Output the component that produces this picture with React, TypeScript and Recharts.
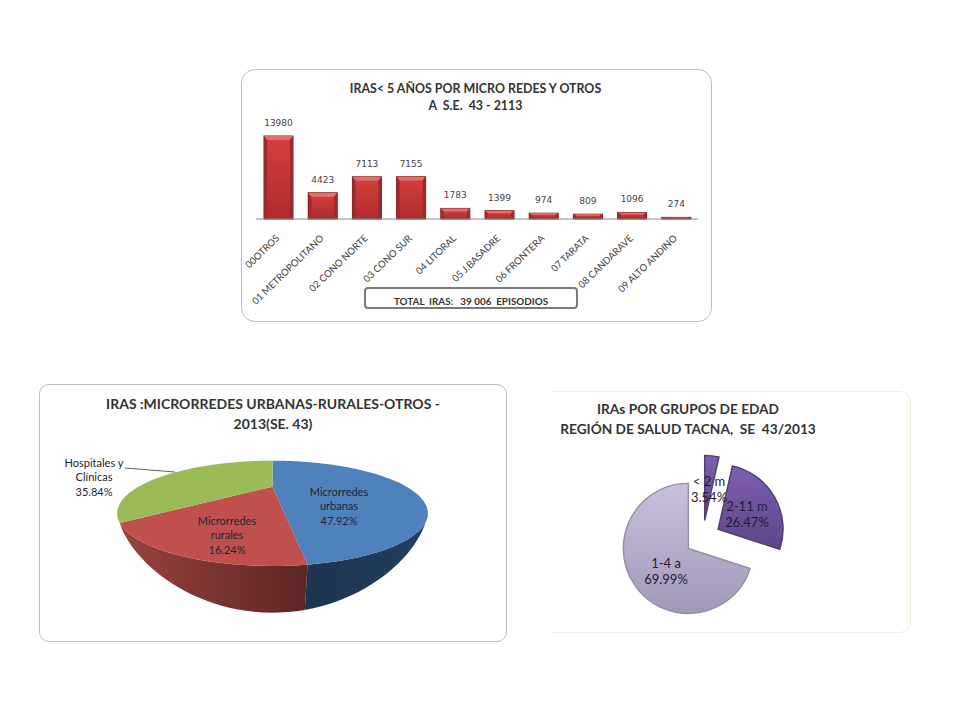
import { BarChart, Bar, XAxis, YAxis, LabelList, PieChart, Pie, Sector } from 'recharts';

// Barras: IRAS por micro red
const redes = ['00OTROS', '01  METROPOLITANO', '02 CONO NORTE', '03 CONO SUR', '04 LITORAL', '05 J.BASADRE', '06 FRONTERA', '07 TARATA', '08 CANDARAVE', '09 ALTO ANDINO'];
const episodios = [13980, 4423, 7113, 7155, 1783, 1399, 974, 809, 1096, 274];

// Pie 3D: microrredes
const tiposRed = ['Microrredes urbanas', 'Microrredes rurales', 'Hospitales y Clínicas'];
const tiposPct = [47.92, 16.24, 35.84];

// Pie: grupos de edad
const gruposEdad = ['< 2 m', '2-11 m', '1-4 a'];
const gruposPct = [3.54, 26.47, 69.99];

const barData = redes.map((name, i) => ({ name, value: episodios[i] }));
const tiposData = tiposRed.map((name, i) => ({ name, value: tiposPct[i] }));
const gruposData = gruposEdad.map((name, i) => ({ name, value: gruposPct[i] }));

const FONT = 'Lato, sans-serif';

// Perspectiva del disco del pie 3D
const PERSPECTIVE = 0.506;
const Y_SCALE = 0.2923;
const WALL_DEPTH = 46.7;
const WALL_COLORS = ['url(#wallBlue)', 'url(#wallRed)', null];
const TOP_COLORS = ['#4f81bd', '#c0504d', '#9bbb59'];

function project(cx: number, cy: number, r: number, deg: number) {
  // deg: grados de Recharts (90 = arriba, sentido antihorario)
  const t = ((90 - deg) * Math.PI) / 180;
  const u = Math.sin(t);
  const v = -Math.cos(t);
  const w = 1 - PERSPECTIVE * v;
  return { x: cx + (r * u) / w, y: cy + (r * Y_SCALE * v) / w, x0: (r * u) / w };
}

function bottomOf(cx: number, r: number, p: { x: number; y: number; x0: number }) {
  const xMax = r / Math.sqrt(1 - PERSPECTIVE * PERSPECTIVE);
  const s = Math.sqrt(Math.max(0, 1 - (p.x0 / xMax) ** 2));
  return { x: cx + p.x0 * (1 - 0.08 * s), y: p.y + WALL_DEPTH * Math.pow(s, 1.2) };
}

function Slice3D(props: any) {
  const { cx, cy, outerRadius: r, startAngle, endAngle, index } = props;
  const steps = Math.max(2, Math.ceil(Math.abs(endAngle - startAngle) / 2));
  const pts = [];
  for (let i = 0; i <= steps; i++) {
    pts.push(project(cx, cy, r, startAngle + ((endAngle - startAngle) * i) / steps));
  }
  const top = `M${cx},${cy} ` + pts.map((p) => `L${p.x},${p.y}`).join(' ') + ' Z';

  // pared frontal: sólo la parte del arco que mira hacia adelante
  const front = pts.filter((_, i) => {
    const deg = startAngle + ((endAngle - startAngle) * i) / steps;
    return -Math.cos(((90 - deg) * Math.PI) / 180) >= PERSPECTIVE;
  });
  let wall = null;
  if (WALL_COLORS[index] && front.length > 1) {
    const bottom = front.map((p) => bottomOf(cx, r, p)).reverse();
    const d = 'M' + front.concat(bottom as any).map((p) => `${p.x},${p.y}`).join(' L') + ' Z';
    wall = <path d={d} fill={WALL_COLORS[index] as string} />;
  }
  return (
    <g>
      {wall}
      <path d={top} fill={TOP_COLORS[index]} />
    </g>
  );
}

// Sector separado del centro (pie explotado)
const EXPLODE = 17.7;
const EDAD_FILLS = ['url(#edadDark)', 'url(#edadDark)', 'url(#edadLight)'];
const EDAD_STROKES = ['#4f3f6e', '#4f3f6e', '#938da6'];

function SliceExploded(props: any) {
  const { cx, cy, outerRadius, startAngle, endAngle, index } = props;
  const mid = ((startAngle + endAngle) / 2) * (Math.PI / 180);
  return (
    <Sector
      cx={cx + EXPLODE * Math.cos(mid)}
      cy={cy - EXPLODE * Math.sin(mid)}
      innerRadius={0}
      outerRadius={outerRadius}
      startAngle={startAngle}
      endAngle={endAngle}
      fill={EDAD_FILLS[index]}
      stroke={EDAD_STROKES[index]}
      strokeWidth={1.4}
    />
  );
}

function RedBar(props: any) {
  const { x, y, width, height } = props;
  const bevel = Math.min(4, height * 0.3);
  return (
    <g>
      <rect x={x} y={y} width={width} height={height} fill="url(#barBody)" stroke="#732020" strokeWidth={1} />
      <path d={`M${x},${y} L${x + width},${y} L${x + width - 3},${y + bevel} L${x + 3},${y + bevel} Z`} fill="#e4706c" />
      <path d={`M${x},${y} L${x + 3},${y + bevel} L${x + 3},${y + height} L${x},${y + height} Z`} fill="#9c2a2a" />
      <path d={`M${x + width},${y} L${x + width - 3},${y + bevel} L${x + width - 3},${y + height} L${x + width},${y + height} Z`} fill="#9c2a2a" />
    </g>
  );
}

function RotatedTick(props: any) {
  const { x, y, payload } = props;
  return (
    <text x={x + 2} y={y + 12} transform={`rotate(-44 ${x + 2} ${y + 12})`} textAnchor="end" fontFamily={FONT} fontSize={9.6} fill="#404040">
      {payload.value}
    </text>
  );
}

// Posición de las etiquetas de los pies, relativa a cada panel
const TIPOS_LABELS = [
  { x: 300, lines: ['Microrredes', 'urbanas', '47.92%'], y: 112 },
  { x: 188, lines: ['Microrredes', 'rurales', '16.24%'], y: 141 },
  { x: 55, lines: ['Hospitales y', 'Clínicas', '35.84%'], y: 83 },
];
const EDAD_LABELS = [
  { x: 157, lines: ['< 2 m', '3.54%'], y: 95 },
  { x: 195, lines: ['2-11 m', '26.47%'], y: 120 },
  { x: 114, lines: ['1-4 a', '69.99%'], y: 177 },
];

function tiposLabel({ index }: any) {
  const l = TIPOS_LABELS[index];
  return (
    <g>
      {index === 2 && <line x1={86} y1={84} x2={136} y2={88} stroke="#333" strokeWidth={0.8} />}
      <text textAnchor="middle" fontFamily={FONT} fontSize={11} fill="#1e2430">
        {l.lines.map((t, i) => (
          <tspan key={t} x={l.x} y={l.y + i * 14.4}>{t}</tspan>
        ))}
      </text>
    </g>
  );
}

function edadLabel({ index }: any) {
  const l = EDAD_LABELS[index];
  return (
    <text textAnchor="middle" fontFamily={FONT} fontSize={13} fill="#1f1a33">
      {l.lines.map((t, i) => (
        <tspan key={t} x={l.x} y={l.y + i * 15.5}>{t}</tspan>
      ))}
    </text>
  );
}

const titleStyle = (left: number, top: number, width: number, fontSize: number, lineHeight: number): React.CSSProperties => ({
  position: 'absolute',
  left,
  top,
  width,
  textAlign: 'center',
  fontFamily: FONT,
  fontWeight: 700,
  fontSize,
  lineHeight: `${lineHeight}px`,
  color: '#333',
  whiteSpace: 'pre',
});

export default function App() {
  return (
    <div style={{ position: 'absolute', left: 0, top: 0, width: 960, height: 720, background: '#fff', overflow: 'hidden' }}>
      {/* Panel de barras */}
      <div style={{ position: 'absolute', left: 241, top: 69, width: 469, height: 251, border: '1.5px solid #bdbdbd', borderRadius: 14 }} />
      <div style={{ position: 'absolute', left: 241, top: 69 }}>
        <BarChart width={471} height={253} data={barData} margin={{ top: 67, right: 14, bottom: 0, left: 15 }} barSize={29}>
          <defs>
            <linearGradient id="barBody" x1="0" y1="0" x2="0" y2="1">
              <stop offset="0%" stopColor="#d5403f" />
              <stop offset="100%" stopColor="#ad2c2c" />
            </linearGradient>
          </defs>
          <XAxis dataKey="name" interval={0} height={103} tick={<RotatedTick />} tickLine={false} axisLine={{ stroke: '#8a8a8a' }} />
          <YAxis hide domain={[0, 13980]} />
          <Bar dataKey="value" shape={<RedBar />} isAnimationActive={false}>
            <LabelList dataKey="value" position="top" offset={10} fontFamily="DejaVu Sans" fontSize={9} fill="#444" />
          </Bar>
        </BarChart>
      </div>
      <div style={titleStyle(241, 80, 469, 12.4, 17)}>{'IRAS< 5 AÑOS POR MICRO REDES Y OTROS\nA  S.E.  43 - 2113'}</div>
      <div style={{ position: 'absolute', left: 364, top: 287, width: 210, height: 18, border: '2px solid #7a7a7a', borderRadius: 4, background: '#fff', textAlign: 'center', fontFamily: FONT, fontWeight: 700, fontSize: 9.9, lineHeight: '25px', color: '#333', whiteSpace: 'pre' }}>
        {'TOTAL  IRAS:   39 006  EPISODIOS'}
      </div>

      {/* Panel pie 3D */}
      <div style={{ position: 'absolute', left: 39, top: 384, width: 466, height: 256, border: '1.5px solid #bdbdbd', borderRadius: 10 }} />
      <div style={{ position: 'absolute', left: 39, top: 384 }}>
        <PieChart width={468} height={258} margin={{ top: 0, right: 0, bottom: 0, left: 0 }}>
          <defs>
            <linearGradient id="wallRed" x1="0" y1="0" x2="1" y2="0">
              <stop offset="0%" stopColor="#9a4340" />
              <stop offset="100%" stopColor="#5c2624" />
            </linearGradient>
            <linearGradient id="wallBlue" x1="0" y1="0" x2="1" y2="0">
              <stop offset="0%" stopColor="#1d3350" />
              <stop offset="100%" stopColor="#22405f" />
            </linearGradient>
          </defs>
          <Pie
            data={tiposData}
            dataKey="value"
            nameKey="name"
            cx={233.5}
            cy={102.7}
            outerRadius={134}
            startAngle={90}
            endAngle={-270}
            stroke="none"
            shape={Slice3D}
            label={tiposLabel}
            labelLine={false}
            isAnimationActive={false}
          />
        </PieChart>
      </div>
      <div style={titleStyle(40, 394, 466, 14, 20)}>{'IRAS :MICRORREDES URBANAS-RURALES-OTROS -\n2013(SE. 43)'}</div>

      {/* Panel pie por edad */}
      <div style={{ position: 'absolute', left: 552, top: 391, width: 358, height: 240, borderTop: '1px solid #f1efdf', borderRight: '1px solid #f1efdf', borderBottom: '1px solid #f1efdf', borderRadius: '0 12px 12px 0' }} />
      <div style={{ position: 'absolute', left: 552, top: 391 }}>
        <PieChart width={360} height={242} margin={{ top: 0, right: 0, bottom: 0, left: 0 }}>
          <defs>
            <linearGradient id="edadDark" x1="0" y1="0" x2="0" y2="1">
              <stop offset="0%" stopColor="#7f5eb0" />
              <stop offset="100%" stopColor="#5f4589" />
            </linearGradient>
            <linearGradient id="edadLight" x1="0" y1="0" x2="0" y2="1">
              <stop offset="0%" stopColor="#c8c0dc" />
              <stop offset="100%" stopColor="#a299b8" />
            </linearGradient>
          </defs>
          <Pie
            data={gruposData}
            dataKey="value"
            nameKey="name"
            cx={150.7}
            cy={147}
            outerRadius={65}
            startAngle={90}
            endAngle={-270}
            shape={SliceExploded}
            label={edadLabel}
            labelLine={false}
            isAnimationActive={false}
          />
        </PieChart>
      </div>
      <div style={titleStyle(548, 399, 280, 13.7, 20)}>{'IRAs POR GRUPOS DE EDAD\nREGIÓN DE SALUD TACNA,  SE  43/2013'}</div>
    </div>
  );
}
